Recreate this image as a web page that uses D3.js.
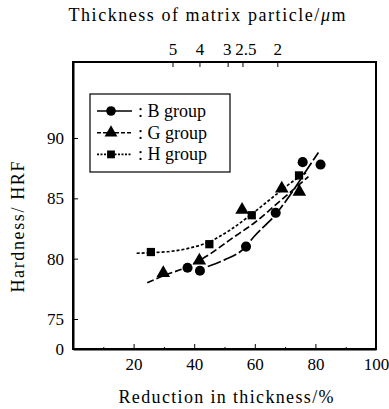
<!DOCTYPE html>
<html>
<head>
<meta charset="utf-8">
<script src="https://cdn.jsdelivr.net/npm/d3@7"></script>
<style>
  body { margin: 0; background: #fff; }
  svg text { font-family: "Liberation Serif", "DejaVu Serif", serif; fill: #000; }
</style>
</head>
<body>
<div id="chart"></div>
<script>
// Measured points: reduction in thickness (%) and hardness (HRF).
const bReduction = [37.8, 41.9, 57.1, 66.9, 75.8, 81.7];
const bHardness = [79.25, 79.0, 81.0, 83.8, 88.0, 87.8];
const gReduction = [29.8, 41.7, 55.8, 68.9, 74.7];
const gHardness = [78.8, 79.85, 84.05, 85.8, 85.55];
const hReduction = [25.7, 45.0, 59.0, 74.6];
const hHardness = [80.55, 81.2, 83.6, 86.9];

// Fitted trend curves.
const bCurveX = [44.5, 50, 56, 60, 67, 72, 77, 81];
const bCurveY = [79.35, 79.9, 80.75, 81.9, 83.7, 85.4, 87.3, 88.8];
const gCurveX = [24.5, 30, 37, 45, 52, 60, 68, 77.7];
const gCurveY = [78.0, 78.6, 79.25, 80.35, 81.6, 83.0, 84.7, 86.8];
const hCurveX = [21, 26, 32, 38, 45, 52, 58, 65, 72, 77.1];
const hCurveY = [80.45, 80.5, 80.6, 80.85, 81.4, 82.4, 83.5, 84.9, 86.3, 87.15];

// Axis ticks.
const xTicks = [20, 40, 60, 80, 100];
const xMinorTicks = [10, 30, 50, 70, 90];
const yTicks = [0, 75, 80, 85, 90];
const thicknessLabels = ['5', '4', '3', '2.5', '2'];
const thicknessAt = [33, 41.9, 51.2, 56.1, 67.6];

const groupNames = ['B group', 'G group', 'H group'];

const width = 389, height = 409;
const margin = {top: 62, right: 13, bottom: 60, left: 73};
const serif = '"Liberation Serif", "DejaVu Serif", serif';

const svg = d3.select('#chart')
    .append('svg')
        .attr('width', width)
        .attr('height', height)
        .attr('font-family', serif);

// x scale: 0..100 across the frame; y scale has a break between 0 and 75.
const x = d3.scaleLinear()
    .domain([0, 100])
    .range([margin.left, width - margin.right]);
const y = d3.scaleLinear()
    .domain([0, 75, 96.3])
    .range([height - margin.bottom, height - margin.bottom - 30, margin.top]);

const fontSize = 17;

// Bottom axis, ticks pointing inwards.
const xAxis = svg.append('g')
    .attr('transform', `translate(0,${height - margin.bottom})`)
    .call(d3.axisBottom(x).tickValues(xTicks).tickSize(-5).tickPadding(9).tickSizeOuter(0))
    .attr('font-family', serif);
xAxis.selectAll('text').style('font-size', `${fontSize}px`);
svg.append('g')
    .attr('transform', `translate(0,${height - margin.bottom})`)
    .call(d3.axisBottom(x).tickValues(xMinorTicks).tickSize(-2).tickFormat('').tickSizeOuter(0))
    .select('.domain').remove();

// Left axis.
const yAxis = svg.append('g')
    .attr('transform', `translate(${margin.left},0)`)
    .call(d3.axisLeft(y).tickValues(yTicks).tickSize(-5).tickPadding(9).tickSizeOuter(0))
    .attr('font-family', serif);
yAxis.selectAll('text').style('font-size', `${fontSize}px`);

// Top axis: thickness of matrix particle.
const topAxis = svg.append('g')
    .attr('transform', `translate(0,${margin.top})`);
topAxis.selectAll('line')
    .data(thicknessAt)
    .enter()
    .append('line')
        .attr('x1', d => x(d))
        .attr('x2', d => x(d))
        .attr('y1', 0)
        .attr('y2', 5)
        .attr('stroke', '#000');
// nudge "3" and "2.5" apart a little, as in the original
const labelNudge = [0, 0, -1, 3, 0];
topAxis.selectAll('text')
    .data(thicknessAt)
    .enter()
    .append('text')
        .attr('x', (d, i) => x(d) + labelNudge[i])
        .attr('y', -7)
        .attr('text-anchor', 'middle')
        .style('font-size', `${fontSize}px`)
        .text((d, i) => thicknessLabels[i]);

// Frame.
svg.append('rect')
    .attr('x', margin.left)
    .attr('y', margin.top)
    .attr('width', width - margin.left - margin.right)
    .attr('height', height - margin.top - margin.bottom)
    .attr('fill', 'none')
    .attr('stroke', '#000')
    .attr('stroke-width', 2);

svg.selectAll('.domain').attr('stroke-width', 2);

// Axis titles.
svg.append('text')
    .attr('x', 207)
    .attr('y', 21)
    .attr('text-anchor', 'middle')
    .attr('textLength', 277)
    .attr('lengthAdjust', 'spacing')
    .style('font-size', '18px')
    .html('Thickness of matrix particle/<tspan font-style="italic">μ</tspan>m');
svg.append('text')
    .attr('x', 226)
    .attr('y', 403)
    .attr('text-anchor', 'middle')
    .attr('textLength', 215)
    .attr('lengthAdjust', 'spacing')
    .style('font-size', '18px')
    .text('Reduction in thickness/%');
svg.append('text')
    .attr('transform', 'translate(24,227) rotate(-90)')
    .attr('text-anchor', 'middle')
    .attr('textLength', 131)
    .attr('lengthAdjust', 'spacing')
    .style('font-size', '18px')
    .text('Hardness/ HRF');

// Trend curves.
const dashes = ['14,3', '7,3', '3,2'];
const curves = [[bCurveX, bCurveY], [gCurveX, gCurveY], [hCurveX, hCurveY]];
const line = d3.line()
    .x(d => x(d[0]))
    .y(d => y(d[1]))
    .curve(d3.curveMonotoneX);
curves.forEach(([cx, cy], i) => {
    svg.append('path')
        .datum(cx.map((v, j) => [v, cy[j]]))
        .attr('d', line)
        .attr('fill', 'none')
        .attr('stroke', '#000')
        .attr('stroke-width', 1.7)
        .attr('stroke-dasharray', dashes[i]);
});

// Markers.
const symbols = [d3.symbolCircle, d3.symbolTriangle, d3.symbolSquare];
const symbolSizes = [80, 80, 68];
const series = [[bReduction, bHardness], [gReduction, gHardness], [hReduction, hHardness]];
series.forEach(([sx, sy], i) => {
    svg.selectAll(`.pt${i}`)
        .data(sx.map((v, j) => [v, sy[j]]))
        .enter()
        .append('path')
            .attr('class', `pt${i}`)
            .attr('transform', d => `translate(${x(d[0])},${y(d[1])})`)
            .attr('d', d3.symbol(symbols[i], symbolSizes[i]))
            .attr('fill', '#000');
});

// Legend.
const legend = svg.append('g')
    .attr('transform', 'translate(90,94)');
legend.append('rect')
    .attr('width', 140)
    .attr('height', 78)
    .attr('fill', '#fff')
    .attr('stroke', '#000')
    .attr('stroke-width', 1.2);
const legendDash = ['', '4,2', '2,1.5'];
groupNames.forEach((name, i) => {
    const row = legend.append('g')
        .attr('transform', `translate(0,${17 + i * 21.7})`);
    row.append('line')
        .attr('x1', 7)
        .attr('x2', 42)
        .attr('stroke', '#000')
        .attr('stroke-width', 1.6)
        .attr('stroke-dasharray', legendDash[i]);
    row.append('path')
        .attr('transform', 'translate(21,0)')
        .attr('d', d3.symbol(symbols[i], symbolSizes[i] * 0.9))
        .attr('fill', '#000');
    row.append('text')
        .attr('x', 48)
        .attr('y', 6)
        .style('font-size', '18px')
        .text(`: ${name}`);
});
</script>
</body>
</html>
